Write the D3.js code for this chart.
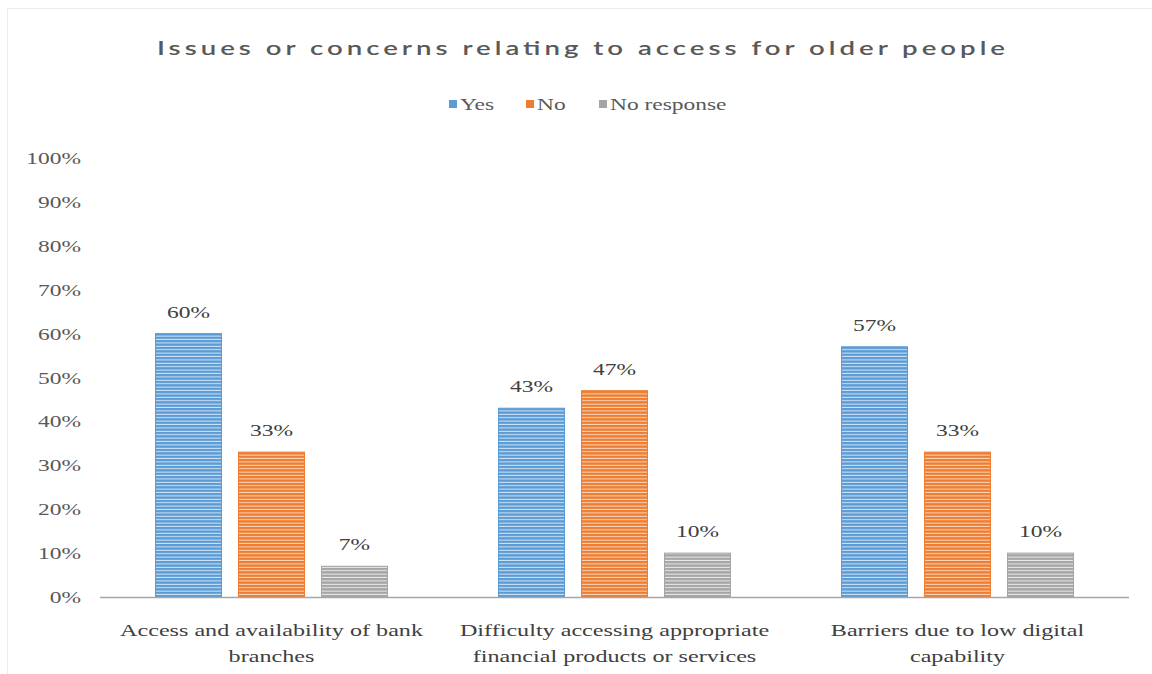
<!DOCTYPE html>
<html>
<head>
<meta charset="utf-8">
<script src="https://cdn.jsdelivr.net/npm/d3@7"></script>
<style>
  html, body { margin: 0; padding: 0; background: #ffffff; }
  svg { display: block; }
</style>
</head>
<body>
<svg id="chart" width="1152" height="674"></svg>
<script>
// Survey results: issues or concerns relating to access for older people
const categories = [
  ["Access and availability of bank", "branches"],
  ["Difficulty accessing appropriate", "financial products or services"],
  ["Barriers due to low digital", "capability"]
];
const seriesNames = ["Yes", "No", "No response"];
const yesValues = [60, 43, 57];
const noValues = [33, 47, 33];
const noResponseValues = [7, 10, 10];
const yTicks = [0, 10, 20, 30, 40, 50, 60, 70, 80, 90, 100];
const titleText = "Issues or concerns relating to access for older people";

const seriesValues = [yesValues, noValues, noResponseValues];
const colors = ["#5b9bd5", "#ed7d31", "#a5a5a5"];
const stripeColors = ["#d6e6f6", "#fbd9c3", "#ececec"];

const svg = d3.select("#chart");
const W = 1152, H = 674;
const serif = "'Liberation Serif', 'Times New Roman', serif";
const sx = 1.38; // horizontal stretch of the lettering

// faint frame edges (top and left)
svg.append("line").attr("x1", 7.5).attr("x2", W).attr("y1", 8.5).attr("y2", 8.5)
  .attr("stroke", "#ececec");
svg.append("line").attr("x1", 7.5).attr("x2", 7.5).attr("y1", 8.5).attr("y2", H)
  .attr("stroke", "#ececec");

// horizontal stripe patterns for each series
const defs = svg.append("defs");
colors.forEach((c, i) => {
  const p = defs.append("pattern").attr("id", "stripe" + i)
    .attr("patternUnits", "userSpaceOnUse").attr("width", 8).attr("height", 3.4);
  p.append("rect").attr("width", 8).attr("height", 3.4).attr("fill", c);
  p.append("rect").attr("y", 2.4).attr("width", 8).attr("height", 1).attr("fill", stripeColors[i]);
});

const x0 = d3.scaleBand().domain(d3.range(categories.length)).range([100, 1129]).padding(0);
const x1 = d3.scaleBand().domain(d3.range(seriesNames.length)).range([0, x0.bandwidth()])
  .paddingInner(0.205).paddingOuter(0.669);
const y = d3.scaleLinear().domain([0, 100]).range([597, 158]);

// stretched text helper
function stext(parent, x, yy, str, size, fill, anchor) {
  return parent.append("text")
    .attr("transform", `translate(${x},${yy}) scale(${sx},1)`)
    .attr("text-anchor", anchor || "middle")
    .attr("font-family", serif)
    .attr("font-size", size)
    .attr("fill", fill)
    .text(str);
}

// title
svg.append("text")
  .attr("transform", `translate(157,55) scale(${sx},1)`)
  .attr("font-family", "Lato, 'Open Sans', sans-serif")
  .attr("font-size", 20)
  .attr("font-weight", 600)
  .attr("fill", "#595959")
  .attr("textLength", 848 / sx)
  .attr("lengthAdjust", "spacing")
  .text(titleText);

// legend
const legendX = [449, 526, 599];
seriesNames.forEach((name, i) => {
  svg.append("rect").attr("x", legendX[i]).attr("y", 100).attr("width", 8).attr("height", 8)
    .attr("fill", colors[i]);
  stext(svg, legendX[i] + 11, 110, name, 17, "#595959", "start");
});

// y axis labels
const yAxis = svg.append("g");
yTicks.forEach(t => {
  stext(yAxis, 81, y(t) + 6, t + "%", 17, "#595959", "end");
});

// bars
const groups = svg.append("g").selectAll("g")
  .data(categories.map((c, ci) => ({ ci, vals: seriesValues.map(s => s[ci]) })))
  .join("g")
  .attr("transform", d => `translate(${x0(d.ci)},0)`);

groups.selectAll("rect")
  .data(d => d.vals.map((v, si) => ({ v, si })))
  .join("rect")
  .attr("x", d => x1(d.si))
  .attr("y", d => y(d.v))
  .attr("width", x1.bandwidth())
  .attr("height", d => y(0) - y(d.v))
  .attr("fill", d => `url(#stripe${d.si})`)
  .attr("stroke", d => colors[d.si])
  .attr("stroke-width", 1);

// value labels
groups.each(function (d) {
  const g = d3.select(this);
  d.vals.forEach((v, si) => {
    stext(g, x1(si) + x1.bandwidth() / 2, y(v) - 16, v + "%", 17, "#404040");
  });
});

// baseline
svg.append("line").attr("x1", 100).attr("x2", 1129).attr("y1", 597.5).attr("y2", 597.5)
  .attr("stroke", "#a6a6a6").attr("stroke-width", 1.5);

// category labels
categories.forEach((lines, ci) => {
  const cx = x0(ci) + x0.bandwidth() / 2;
  lines.forEach((ln, li) => {
    stext(svg, cx, 636 + li * 26, ln, 17.5, "#404040");
  });
});
</script>
</body>
</html>
